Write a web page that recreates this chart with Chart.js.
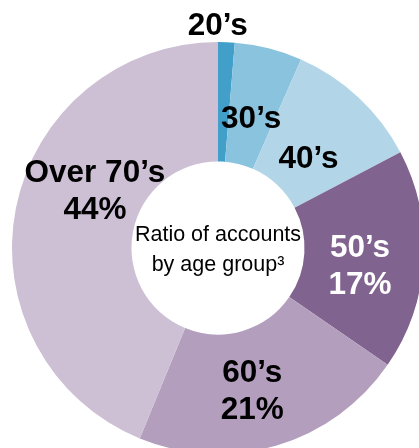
<!DOCTYPE html>
<html>
<head>
<meta charset="utf-8">
<script src="https://cdn.jsdelivr.net/npm/chart.js@4.4.0/dist/chart.umd.min.js"></script>
<style>
  html, body { margin: 0; padding: 0; background: #fff; overflow: hidden; }
  #wrap { position: absolute; left: 0; top: 0; width: 436px; height: 496px; }
</style>
</head>
<body>
<div id="wrap"><canvas id="myChart" width="436" height="496"></canvas></div>
<script>
// data (share of accounts, %)
var ageGroups = ['20’s', '30’s', '40’s', '50’s', '60’s', 'Over 70’s'];
var shares = [1.3, 5.3, 10.7, 17.3, 21.6, 43.8];
var shownPct = ['', '', '', '17%', '21%', '44%'];
var centerLines = ['Ratio of accounts', 'by age group³'];

var colors = ['#419fca', '#8ac3dd', '#b2d6e8', '#80638e', '#b39fbd', '#cdbfd4'];

// label placement: distance from centre and nudge of the angle (degrees)
var labelStyle = [
  { r: 224, shift: -2.4, color: '#000' },
  { r: 135, shift: 0, color: '#000' },
  { r: 128, shift: 2, color: '#000' },
  { r: 143, shift: 3.5, color: '#fff' },
  { r: 146, shift: 3, color: '#000' },
  { r: 136, shift: 14, color: '#000' }
];

var FONT = '"Liberation Sans", Arial, Helvetica, sans-serif';

var sliceLabels = {
  id: 'sliceLabels',
  afterDatasetsDraw: function (chart) {
    var ctx = chart.ctx;
    var meta = chart.getDatasetMeta(0);
    ctx.save();
    ctx.textAlign = 'center';
    ctx.textBaseline = 'middle';
    meta.data.forEach(function (arc, i) {
      var p = arc.getProps(['x', 'y', 'startAngle', 'endAngle'], true);
      var st = labelStyle[i];
      var mid = (p.startAngle + p.endAngle) / 2 + st.shift * Math.PI / 180;
      var cx = p.x + Math.cos(mid) * st.r;
      var cy = p.y + Math.sin(mid) * st.r + 2;
      var lines = [ageGroups[i]];
      if (shownPct[i]) lines.push(shownPct[i]);
      var lh = 37;
      var y0 = cy - (lines.length - 1) * lh / 2;
      ctx.fillStyle = st.color;
      ctx.font = 'bold 31.5px ' + FONT;
      lines.forEach(function (t, k) {
        ctx.fillText(t, cx, y0 + k * lh);
      });
    });
    // centre caption
    var c = meta.data[0].getProps(['x', 'y'], true);
    ctx.fillStyle = '#000';
    ctx.font = '21.5px ' + FONT;
    ctx.fillText(centerLines[0], c.x, c.y - 13);
    ctx.fillText(centerLines[1], c.x, c.y + 17);
    ctx.restore();
  }
};

var ctx = document.getElementById('myChart').getContext('2d');
var myChart = new Chart(ctx, {
  type: 'doughnut',
  data: {
    labels: ageGroups,
    datasets: [{
      data: shares,
      backgroundColor: colors,
      borderWidth: 0,
      hoverOffset: 0,
      offset: 0
    }]
  },
  options: {
    responsive: false,
    animation: false,
    cutout: '42%',
    layout: { padding: { top: 42, bottom: 42, left: 12, right: 12 } },
    plugins: {
      legend: { display: false },
      tooltip: { enabled: false }
    }
  },
  plugins: [sliceLabels]
});
</script>
</body>
</html>
